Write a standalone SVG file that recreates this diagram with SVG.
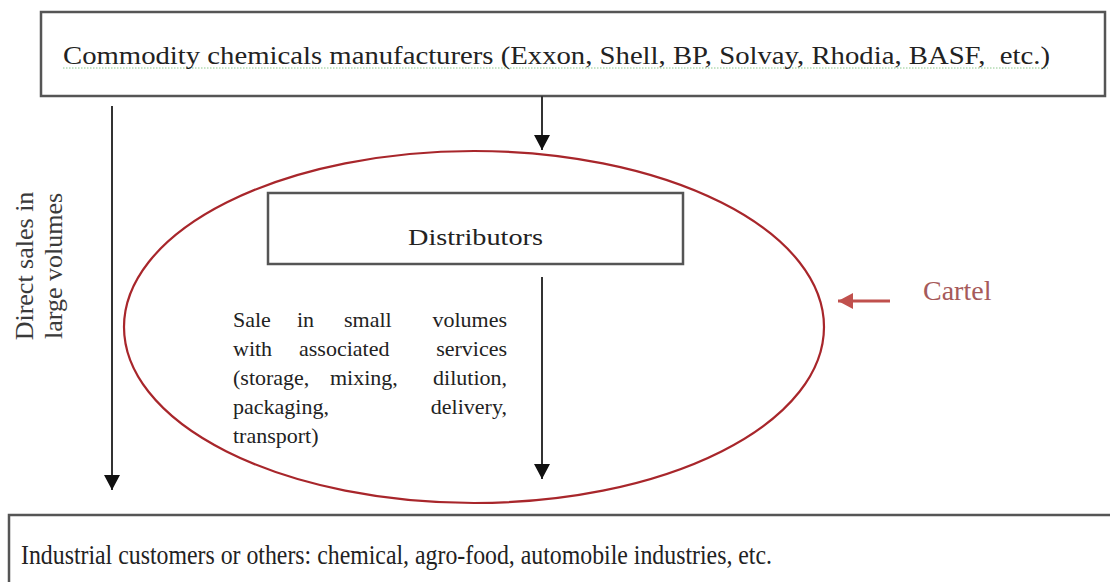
<svg xmlns="http://www.w3.org/2000/svg" width="1110" height="582" viewBox="0 0 1110 582">
  <style>
    .box { fill: #ffffff; stroke: #555555; stroke-width: 2.5; }
    .txt { font-family: "Liberation Serif", "Times New Roman", serif; fill: #222222; }
    .conn { stroke: #333333; stroke-width: 2; fill: none; }
  </style>
  <defs>
    <marker id="ah" markerUnits="userSpaceOnUse" markerWidth="16" markerHeight="16" viewBox="0 0 16 16" refX="15" refY="8" orient="auto">
      <path d="M0,0 L15,8 L0,16 Z" fill="#111111"/>
    </marker>
    <marker id="ahr" markerUnits="userSpaceOnUse" markerWidth="16" markerHeight="16" viewBox="0 0 16 16" refX="15" refY="8" orient="auto">
      <path d="M0,0 L15,8 L0,16 Z" fill="#c0504d"/>
    </marker>
  </defs>
  <rect width="1110" height="582" fill="#ffffff"/>

  <g id="cartel">
    <ellipse cx="474" cy="327" rx="350" ry="176" fill="none" stroke="#a8262b" stroke-width="2.2"/>
  </g>

  <g id="manufacturers">
    <rect class="box" x="41" y="12" width="1064" height="84"/>
    <line x1="63" y1="68" x2="1048" y2="68" stroke="#8cc88c" stroke-width="1" stroke-dasharray="1.5 1.5"/>
    <text class="txt" x="63" y="64" font-size="26" textLength="987" lengthAdjust="spacingAndGlyphs">Commodity chemicals manufacturers (Exxon, Shell, BP, Solvay, Rhodia, BASF,&#160; etc.)</text>
  </g>

  <g id="distributors">
    <rect class="box" x="268" y="193" width="415" height="71" stroke-width="2"/>
    <text class="txt" x="408" y="245" font-size="24" textLength="135" lengthAdjust="spacingAndGlyphs">Distributors</text>
  </g>

  <g id="small-volumes" class="txt" font-size="22">
    <text y="327"><tspan x="233">Sale</tspan><tspan x="297">in</tspan><tspan x="344">small</tspan><tspan x="507" text-anchor="end">volumes</tspan></text>
    <text y="356"><tspan x="233">with</tspan><tspan x="299">associated</tspan><tspan x="507" text-anchor="end">services</tspan></text>
    <text y="385"><tspan x="233">(storage,</tspan><tspan x="330">mixing,</tspan><tspan x="507" text-anchor="end">dilution,</tspan></text>
    <text y="414"><tspan x="233">packaging,</tspan><tspan x="507" text-anchor="end">delivery,</tspan></text>
    <text y="443" x="233">transport)</text>
  </g>

  <g id="direct-sales" class="txt" font-size="26">
    <text transform="translate(33,266) rotate(-90)" text-anchor="middle" fill="#3a3a3a">Direct sales in</text>
    <text transform="translate(62,266) rotate(-90)" text-anchor="middle" fill="#3a3a3a">large volumes</text>
  </g>

  <g id="cartel-label">
    <text x="923" y="300" font-family="Liberation Serif, Times New Roman, serif" font-size="28" fill="#a65a5a">Cartel</text>
  </g>

  <g id="customers">
    <rect class="box" x="9" y="515" width="1110" height="90"/>
    <text class="txt" x="21" y="564" font-size="27" textLength="751" lengthAdjust="spacingAndGlyphs">Industrial customers or others: chemical, agro-food, automobile industries, etc.</text>
  </g>

  <g id="connectors">
    <line class="conn" x1="112" y1="106" x2="112" y2="490" marker-end="url(#ah)"/>
    <line class="conn" x1="542" y1="96" x2="542" y2="150" marker-end="url(#ah)"/>
    <line class="conn" x1="542" y1="277" x2="542" y2="479" marker-end="url(#ah)"/>
    <line x1="890" y1="301" x2="838" y2="301" stroke="#c0504d" stroke-width="3" marker-end="url(#ahr)"/>
  </g>
</svg>
